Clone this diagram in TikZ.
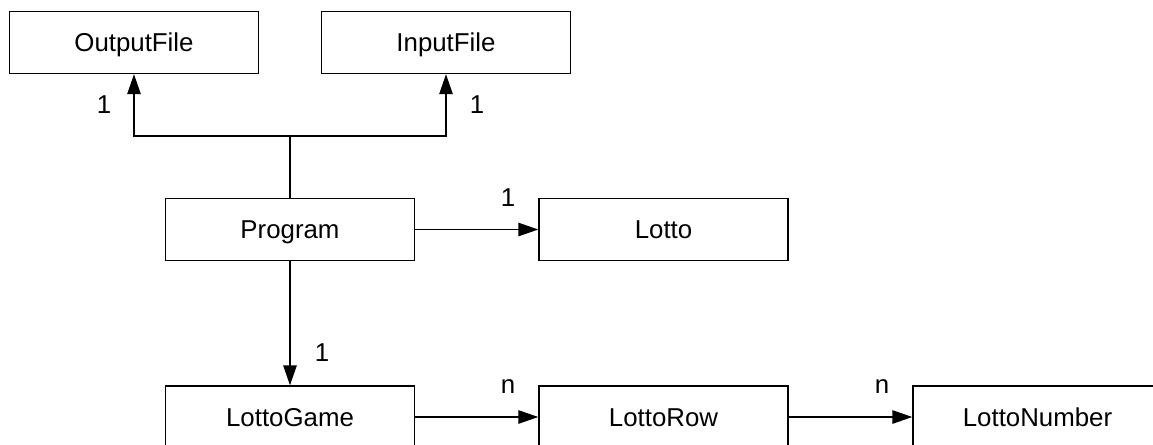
\documentclass[tikz,border=0pt]{standalone}
\usepackage{fontspec}
\setmainfont{Liberation Sans}
\definecolor{ink}{HTML}{000000}
\usetikzlibrary{arrows.meta, positioning}
\tikzset{
  cls/.style={
    draw=ink, fill=white, line width=0.8pt,
    minimum width=4.98cm, minimum height=1.24cm,
    font=\fontsize{14.7}{17}\selectfont, text=ink, inner sep=0pt,
    text height=10.5pt, text depth=0pt
  },
  arr/.style={-{Triangle[length=11.3pt,width=7.6pt]}, line width=0.8pt, color=ink},
  lnk/.style={line width=0.8pt, color=ink},
  lbl/.style={font=\fontsize{14.7}{17}\selectfont, text=ink, inner sep=0pt},
}
\begin{document}
\begin{tikzpicture}
  \useasboundingbox (0,0) rectangle (23.06,-8.88);
  \clip (0,0) rectangle (23.06,-8.88);

  % Files
  \node[cls] (out) at (2.68,-0.85) {OutputFile};
  \node[cls] (infile) at (8.92,-0.85) {InputFile};

  % Program and Lotto
  \node[cls] (prog) at (5.80,-4.59) {Program};
  \node[cls] (lotto) at (13.27,-4.59) {Lotto};

  % Game chain
  \node[cls] (game) at (5.80,-8.34) {LottoGame};
  \node[cls] (row) at (13.27,-8.34) {LottoRow};
  \node[cls] (num) at (20.75,-8.34) {LottoNumber};

  \coordinate (junc) at (5.80,-2.72);
  \draw[lnk] (prog) -- (junc);
  \draw[arr] (junc) -| (out);
  \draw[arr] (junc) -| (infile);
  \draw[arr] (prog) -- (lotto);
  \draw[arr] (prog) -- (game);
  \draw[arr] (game) -- (row);
  \draw[arr] (row) -- (num);

  % Multiplicities
  \node[lbl] (mout) at (2.08,-2.10) {1};
  \node[lbl] (min) at (9.54,-2.10) {1};
  \node[lbl] (mlotto) at (10.16,-3.96) {1};
  \node[lbl] (mgame) at (6.44,-7.06) {1};
  \node[lbl] (mrow) at (10.16,-7.74) {n};
  \node[lbl] (mnum) at (17.64,-7.74) {n};
\end{tikzpicture}
\end{document}
